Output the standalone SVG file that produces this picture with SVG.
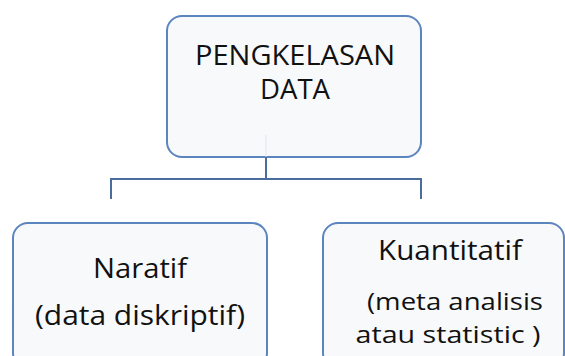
<svg xmlns="http://www.w3.org/2000/svg" width="565" height="356" viewBox="0 0 565 356">
<style>
.box{fill:#f8f9fb;stroke:#5b85bf;stroke-width:2}
.t{font-family:"Open Sans","Noto Sans","DejaVu Sans",sans-serif;fill:#111;text-anchor:middle;font-size:27px}
.s{font-size:24px}
.c{fill:none;stroke:#4a6d9c;stroke-width:2}
</style>
<rect width="565" height="356" fill="#ffffff"/>
<g id="root">
<rect class="box" x="167" y="16" width="254" height="141" rx="15"/>
<line x1="266" y1="135" x2="266" y2="157" stroke="#dfe5ee" stroke-width="1"/>
<text class="t" x="295" y="65" textLength="200" lengthAdjust="spacingAndGlyphs">PENGKELASAN</text>
<text class="t" x="295" y="99" textLength="70" lengthAdjust="spacingAndGlyphs">DATA</text>
</g>
<g id="naratif">
<rect class="box" x="13" y="223" width="254" height="145" rx="15"/>
<text class="t" x="140" y="278" textLength="94" lengthAdjust="spacingAndGlyphs">Naratif</text>
<text class="t" x="140" y="325" textLength="210" lengthAdjust="spacingAndGlyphs">(data diskriptif)</text>
</g>
<g id="kuantitatif">
<rect class="box" x="323" y="223" width="241" height="145" rx="15"/>
<text class="t" x="450" y="260" textLength="144" lengthAdjust="spacingAndGlyphs">Kuantitatif</text>
<text class="t s" x="455" y="310" textLength="176" lengthAdjust="spacingAndGlyphs">(meta analisis</text>
<text class="t s" x="448" y="343" textLength="185" lengthAdjust="spacingAndGlyphs">atau statistic )</text>
</g>
<g id="connectors">
<path class="c" d="M266 157 V179 M111 199 V179 H421 V199"/>
</g>
</svg>
